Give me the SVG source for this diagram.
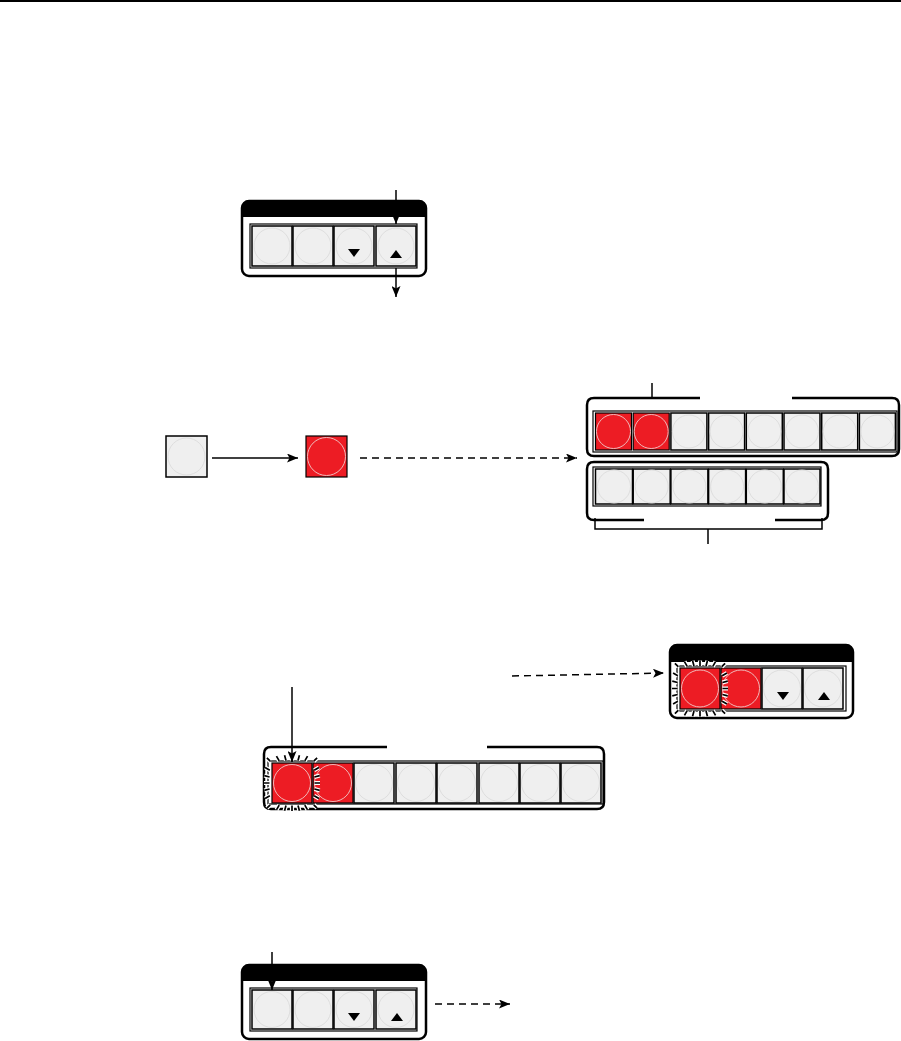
<svg xmlns="http://www.w3.org/2000/svg" xmlns:xlink="http://www.w3.org/1999/xlink" width="901" height="1041" viewBox="0 0 901 1041">
<style>
.btn{fill:#efefef;stroke:#000;stroke-width:1.5}
.red{fill:#ed1c24;stroke:#000;stroke-width:1.2}
.ring{fill:none;stroke:#dedede;stroke-width:1}
.ringr{fill:none;stroke:#f0b8b8;stroke-width:1}
.panel{fill:#fff;stroke:#000;stroke-width:2.5}
.edge{fill:none;stroke:#000;stroke-width:2.5}
.frame{fill:#fff;stroke:#000;stroke-width:1.2}
.conn{fill:none;stroke:#000;stroke-width:1.5}
.dash{stroke-dasharray:7 5}
.tri{fill:#000}
.hdr{fill:#000}
</style>
<defs>
<marker id="ah" markerWidth="11" markerHeight="9" refX="11" refY="4.5" orient="auto" markerUnits="userSpaceOnUse">
<path d="M0,0 L11,4.5 L0,9 L2.5,4.5 Z" fill="#000"/>
</marker>
<path id="ticks" d="M22.5,0 L28,0 M22.42,6.01 L27.73,7.43 M22.16,12.8 L26.92,15.55 M21.78,21.78 L25.1,25.1 M12.8,22.16 L15.55,26.92 M6.01,22.42 L7.43,27.73 M0,22.5 L0,28 M-6.01,22.42 L-7.43,27.73 M-12.8,22.16 L-15.55,26.92 M-21.78,21.78 L-25.1,25.1 M-22.16,12.8 L-26.92,15.55 M-22.42,6.01 L-27.73,7.43 M-22.5,0 L-28,0 M-22.42,-6.01 L-27.73,-7.43 M-22.16,-12.8 L-26.92,-15.55 M-21.78,-21.78 L-25.1,-25.1 M-12.8,-22.16 L-15.55,-26.92 M-6.01,-22.42 L-7.43,-27.73 M0,-22.5 L0,-28 M6.01,-22.42 L7.43,-27.73 M12.8,-22.16 L15.55,-26.92 M21.78,-21.78 L25.1,-25.1 M22.16,-12.8 L26.92,-15.55 M22.42,-6.01 L27.73,-7.43"/>
<g id="glow">
<use xlink:href="#ticks" href="#ticks" fill="none" stroke="#fff" stroke-width="4.2"/>
<use xlink:href="#ticks" href="#ticks" fill="none" stroke="#000" stroke-width="1.7"/>
</g>
</defs>

<rect x="0" y="0" width="901" height="2" fill="#000"/>

<!-- Top control panel -->
<g id="panel-top">
<rect class="panel" x="242" y="201" width="184" height="75" rx="7"/>
<path class="hdr" d="M242,217 V208 Q242,201 249,201 H419 Q426,201 426,208 V217 Z"/>
<rect class="frame" x="250" y="224" width="167" height="44"/>
<rect class="btn" x="252" y="226" width="40" height="40"/><circle class="ring" cx="272" cy="246" r="18"/>
<rect class="btn" x="293" y="226" width="40" height="40"/><circle class="ring" cx="313" cy="246" r="18"/>
<rect class="btn" x="334" y="226" width="40" height="40" stroke-width="2"/><circle class="ring" cx="354" cy="246" r="18"/>
<rect class="btn" x="376" y="226" width="40" height="40" stroke-width="2"/><circle class="ring" cx="396" cy="246" r="18"/>
<polygon class="tri" points="348,249 360,249 354,257"/>
<polygon class="tri" points="390,258 402,258 396,250"/>
</g>

<!-- Middle: plain button -->
<g id="btn-plain">
<rect class="btn" x="166" y="436" width="41" height="41"/>
<circle class="ring" cx="186.5" cy="456.5" r="18.5"/>
</g>

<!-- Middle: red button -->
<g id="btn-red">
<rect class="red" x="306" y="436" width="41" height="41"/>
<circle class="ringr" cx="326.5" cy="456.5" r="19"/>
</g>

<!-- Right upper panel -->
<g id="panel-upper">
<path class="edge" d="M700,398 H594 Q587,398 587,405 V449 Q587,456 594,456 H892 Q899,456 899,449 V405 Q899,398 892,398 H792"/>
<line class="conn" x1="652" y1="383" x2="652" y2="398" stroke-width="2"/>
<rect class="frame" x="593" y="411" width="304" height="41"/>
<rect class="red" x="595.5" y="413" width="36" height="37"/><circle class="ringr" cx="613.5" cy="431.5" r="17"/>
<rect class="red" x="633.2" y="413" width="36" height="37"/><circle class="ringr" cx="651.2" cy="431.5" r="17"/>
<rect class="btn" x="670.9" y="413" width="36" height="37"/><circle class="ring" cx="688.9" cy="431.5" r="16.5"/>
<rect class="btn" x="708.6" y="413" width="36" height="37"/><circle class="ring" cx="726.6" cy="431.5" r="16.5"/>
<rect class="btn" x="746.3" y="413" width="36" height="37"/><circle class="ring" cx="764.3" cy="431.5" r="16.5"/>
<rect class="btn" x="784" y="413" width="36" height="37"/><circle class="ring" cx="802" cy="431.5" r="16.5"/>
<rect class="btn" x="821.7" y="413" width="36" height="37"/><circle class="ring" cx="839.7" cy="431.5" r="16.5"/>
<rect class="btn" x="859.4" y="413" width="36" height="37"/><circle class="ring" cx="877.4" cy="431.5" r="16.5"/>
</g>

<!-- Right lower panel -->
<g id="panel-lower">
<path class="edge" d="M644,520 H594 Q587,520 587,513 V469 Q587,462 594,462 H821 Q828,462 828,469 V513 Q828,520 821,520 H775"/>
<rect class="frame" x="593" y="467" width="228" height="39"/>
<rect class="btn" x="595.5" y="469" width="37" height="35" stroke-width="2"/><circle class="ring" cx="614" cy="486.5" r="16.5"/>
<rect class="btn" x="633.2" y="469" width="37" height="35" stroke-width="2"/><circle class="ring" cx="651.7" cy="486.5" r="16.5"/>
<rect class="btn" x="670.9" y="469" width="37" height="35" stroke-width="2"/><circle class="ring" cx="689.4" cy="486.5" r="16.5"/>
<rect class="btn" x="708.6" y="469" width="37" height="35" stroke-width="2"/><circle class="ring" cx="727.1" cy="486.5" r="16.5"/>
<rect class="btn" x="746.3" y="469" width="37" height="35" stroke-width="2"/><circle class="ring" cx="764.8" cy="486.5" r="16.5"/>
<rect class="btn" x="784" y="469" width="36" height="35" stroke-width="2"/><circle class="ring" cx="802" cy="486.5" r="16.5"/>
<path class="conn" d="M595,518 V529 H822 V518 M708,529 V544" stroke-width="2"/>
</g>

<!-- Middle-lower panel -->
<g id="panel-mid">
<path class="edge" d="M387,747 H271 Q264,747 264,754 V802 Q264,809 271,809 H597 Q604,809 604,802 V754 Q604,747 597,747 H487"/>
<rect class="frame" x="268" y="761" width="335" height="43"/>
<rect class="red" x="272" y="763" width="40" height="40" stroke-width="1.8"/><circle class="ringr" cx="292" cy="783" r="18.5"/>
<rect class="red" x="313" y="763" width="40" height="40"/><circle class="ringr" cx="333" cy="783" r="18.5"/>
<rect class="btn" x="354" y="763" width="40" height="40"/><circle class="ring" cx="374" cy="783" r="18.5"/>
<rect class="btn" x="396" y="763" width="40" height="40"/><circle class="ring" cx="416" cy="783" r="18.5"/>
<rect class="btn" x="437" y="763" width="40" height="40"/><circle class="ring" cx="457" cy="783" r="18.5"/>
<rect class="btn" x="479" y="763" width="40" height="40"/><circle class="ring" cx="499" cy="783" r="18.5"/>
<rect class="btn" x="520" y="763" width="40" height="40"/><circle class="ring" cx="540" cy="783" r="18.5"/>
<rect class="btn" x="561" y="763" width="40" height="40"/><circle class="ring" cx="581" cy="783" r="18.5"/>
<use xlink:href="#glow" href="#glow" x="292" y="783"/>
</g>

<!-- Bottom-right panel -->
<g id="panel-right">
<rect class="panel" x="670" y="645" width="183" height="73" rx="7"/>
<path class="hdr" d="M670,662 V652 Q670,645 677,645 H846 Q853,645 853,652 V662 Z"/>
<rect class="frame" x="677" y="666" width="169" height="45"/>
<rect class="red" x="680" y="668" width="40" height="41" stroke-width="1.8"/><circle class="ringr" cx="700" cy="688.5" r="18.5"/>
<rect class="red" x="721" y="668" width="40" height="41"/><circle class="ringr" cx="741" cy="688.5" r="18.5"/>
<rect class="btn" x="762" y="668" width="40" height="41" stroke-width="2"/><circle class="ring" cx="782" cy="688.5" r="18.5"/>
<rect class="btn" x="803" y="668" width="40" height="41" stroke-width="2"/><circle class="ring" cx="823" cy="688.5" r="18.5"/>
<polygon class="tri" points="777,692 789,692 783,700"/>
<polygon class="tri" points="818,700 830,700 824,692"/>
<use xlink:href="#glow" href="#glow" x="700" y="688.5"/>
</g>

<!-- Bottom control panel -->
<g id="panel-bottom">
<rect class="panel" x="242" y="965" width="184" height="74" rx="7"/>
<path class="hdr" d="M242,981 V972 Q242,965 249,965 H419 Q426,965 426,972 V981 Z"/>
<rect class="frame" x="250" y="988" width="167" height="43"/>
<rect class="btn" x="252" y="990" width="40" height="39"/><circle class="ring" cx="272" cy="1009.5" r="18"/>
<rect class="btn" x="293" y="990" width="40" height="39"/><circle class="ring" cx="313" cy="1009.5" r="18"/>
<rect class="btn" x="334" y="990" width="40" height="39" stroke-width="2"/><circle class="ring" cx="354" cy="1009.5" r="18"/>
<rect class="btn" x="376" y="990" width="40" height="39" stroke-width="2"/><circle class="ring" cx="396" cy="1009.5" r="18"/>
<polygon class="tri" points="348,1013 360,1013 354,1021"/>
<polygon class="tri" points="391,1021 403,1021 397,1013"/>
</g>

<!-- Connectors -->
<g id="connectors">
<line class="conn" x1="396" y1="190" x2="396" y2="224" marker-end="url(#ah)"/>
<line class="conn" x1="396" y1="268" x2="396" y2="297" marker-end="url(#ah)"/>
<line class="conn" x1="212" y1="458" x2="298" y2="458" marker-end="url(#ah)"/>
<line class="conn dash" x1="360" y1="458" x2="577" y2="458" marker-end="url(#ah)"/>
<line class="conn dash" x1="512" y1="676" x2="664" y2="673" marker-end="url(#ah)"/>
<line class="conn" x1="292" y1="687" x2="292" y2="762" marker-end="url(#ah)"/>
<line class="conn" x1="272" y1="952" x2="272" y2="990" marker-end="url(#ah)"/>
<line class="conn dash" x1="435" y1="1004" x2="510" y2="1004" marker-end="url(#ah)"/>
</g>
</svg>
